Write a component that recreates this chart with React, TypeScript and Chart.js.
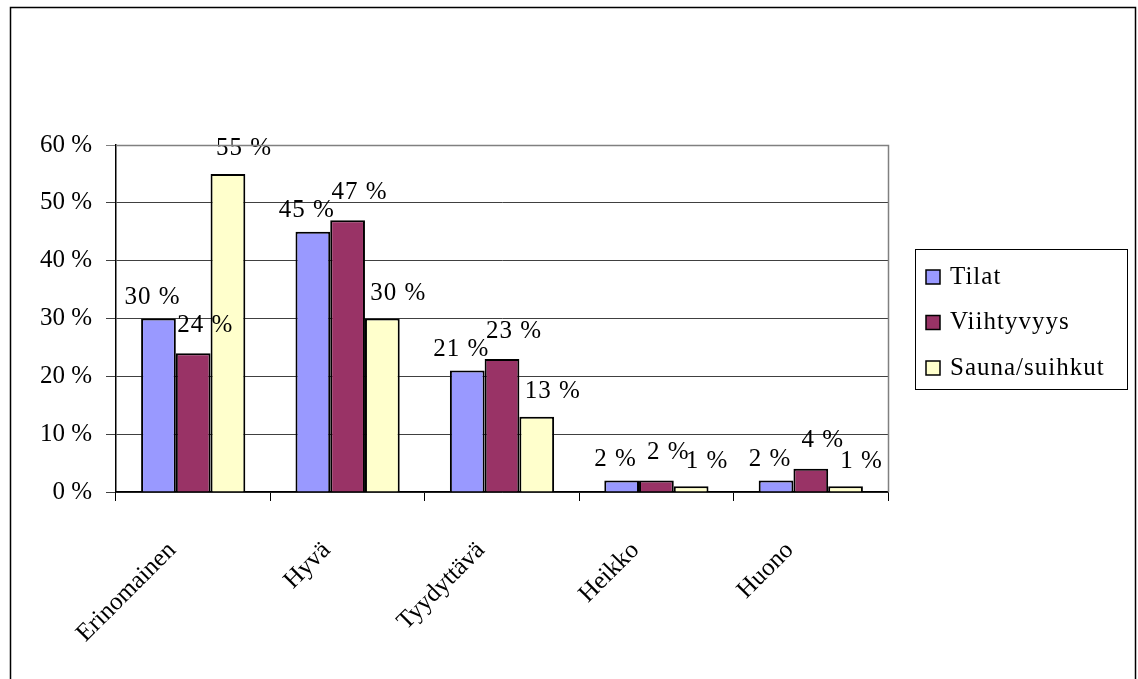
import React, { useEffect, useRef } from "react";
import { Chart, registerables } from "chart.js";

Chart.register(...registerables);

const categories = ["Erinomainen", "Hyvä", "Tyydyttävä", "Heikko", "Huono"];
const tilat = [30, 45, 21, 2, 2];
const viihtyvyys = [24, 47, 23, 2, 4];
const sauna = [55, 30, 13, 1, 1];
const seriesNames = ["Tilat", "Viihtyvyys", "Sauna/suihkut"];
const seriesColors = ["#9999FF", "#993366", "#FFFFCC"];
const yTicks = [0, 10, 20, 30, 40, 50, 60];

const FONT = "'Liberation Serif', 'DejaVu Serif', serif";
const FS = 25;
// per-series label nudges (style only)
const labelDx = [-6, 12, 16];
const labelDy = [21, 28, 25];

export default function App() {
  const ref = useRef<HTMLCanvasElement | null>(null);

  useEffect(() => {
    if (!ref.current) return;

    const framePlugin = {
      id: "frame",
      afterDraw(chart: any) {
        const ctx = chart.ctx;
        const a = chart.chartArea;
        ctx.save();
        ctx.strokeStyle = "#000";
        ctx.lineWidth = 1.5;
        ctx.strokeRect(10.5, 7.5, 1125, 720);
        ctx.strokeStyle = "#808080";
        ctx.lineWidth = 1.5;
        ctx.beginPath();
        ctx.moveTo(a.left, a.top + 0.5);
        ctx.lineTo(a.right + 0.5, a.top + 0.5);
        ctx.lineTo(a.right + 0.5, a.bottom);
        ctx.stroke();
        const lx = 915, ly = 249, lw = 212, lh = 140;
        ctx.fillStyle = "#fff";
        ctx.fillRect(lx, ly, lw, lh);
        ctx.strokeStyle = "#000";
        ctx.lineWidth = 1;
        ctx.strokeRect(lx + 0.5, ly + 0.5, lw, lh);
        ctx.font = `${FS}px ${FONT}`;
        ctx.textBaseline = "middle";
        ctx.textAlign = "left";
        try { (ctx as any).letterSpacing = "1px"; } catch (e) {}
        chart.data.datasets.forEach((ds: any, i: number) => {
          const cy = ly + 28 + i * 45.5;
          ctx.fillStyle = ds.backgroundColor;
          ctx.fillRect(926, cy - 7, 14, 14);
          ctx.strokeStyle = "#000";
          ctx.lineWidth = 1.5;
          ctx.strokeRect(926, cy - 7, 14, 14);
          ctx.fillStyle = "#000";
          ctx.fillText(ds.label, 950, cy);
        });
        ctx.restore();
      },
    };

    const labelPlugin = {
      id: "barLabels",
      afterDatasetsDraw(chart: any) {
        const ctx = chart.ctx;
        ctx.save();
        ctx.font = `${FS}px ${FONT}`;
        ctx.fillStyle = "#000";
        ctx.textAlign = "center";
        ctx.textBaseline = "middle";
        try { (ctx as any).letterSpacing = "1px"; } catch (e) {}
        chart.data.datasets.forEach((ds: any, di: number) => {
          const meta = chart.getDatasetMeta(di);
          meta.data.forEach((bar: any, i: number) => {
            ctx.fillText(`${ds.data[i]} %`, bar.x + labelDx[di], bar.y - labelDy[di]);
          });
        });
        ctx.restore();
      },
    };

    const chart = new Chart(ref.current, {
      type: "bar",
      data: {
        labels: categories,
        datasets: [tilat, viihtyvyys, sauna].map((d, i) => ({
          label: seriesNames[i],
          data: d,
          backgroundColor: seriesColors[i],
          borderColor: "#000",
          borderWidth: 2,
          categoryPercentage: 0.675,
          barPercentage: 1,
        })),
      },
      options: {
        animation: false,
        responsive: false,
        devicePixelRatio: 1,
        layout: { padding: { top: 145, right: 250, left: 0, bottom: 0 } },
        plugins: {
          legend: { display: false },
          tooltip: { enabled: false },
        },
        scales: {
          x: {
            afterFit: (s: any) => {
              s.height = 187;
            },
            grid: {
              offset: true,
              drawOnChartArea: false,
              drawTicks: true,
              tickLength: 9,
              color: "#000",
            },
            border: { color: "#000", width: 1.5 },
            ticks: {
              minRotation: 45,
              maxRotation: 45,
              color: "#000",
              padding: 35,
              labelOffset: -21,
              font: { family: FONT, size: FS },
            },
          },
          y: {
            min: 0,
            max: 60,
            afterFit: (s: any) => {
              s.width = 116;
            },
            afterBuildTicks: (s: any) => {
              s.ticks = yTicks.map((v) => ({ value: v }));
            },
            grid: {
              color: (c: any) => (c.tick && c.tick.value === 60 ? "#808080" : "#404040"),
              tickLength: 10,
              lineWidth: 1,
            },
            border: { color: "#000", width: 1.5 },
            ticks: {
              color: "#000",
              padding: 14,
              font: { family: FONT, size: FS },
              callback: (v: any) => `${v} %`,
            },
          },
        },
      },
      plugins: [labelPlugin, framePlugin],
    });

    return () => chart.destroy();
  }, []);

  return (
    <div style={{ position: "absolute", left: 0, top: 0, width: 1138, height: 679, background: "#fff" }}>
      <canvas ref={ref} width={1138} height={679} style={{ display: "block" }} />
    </div>
  );
}
